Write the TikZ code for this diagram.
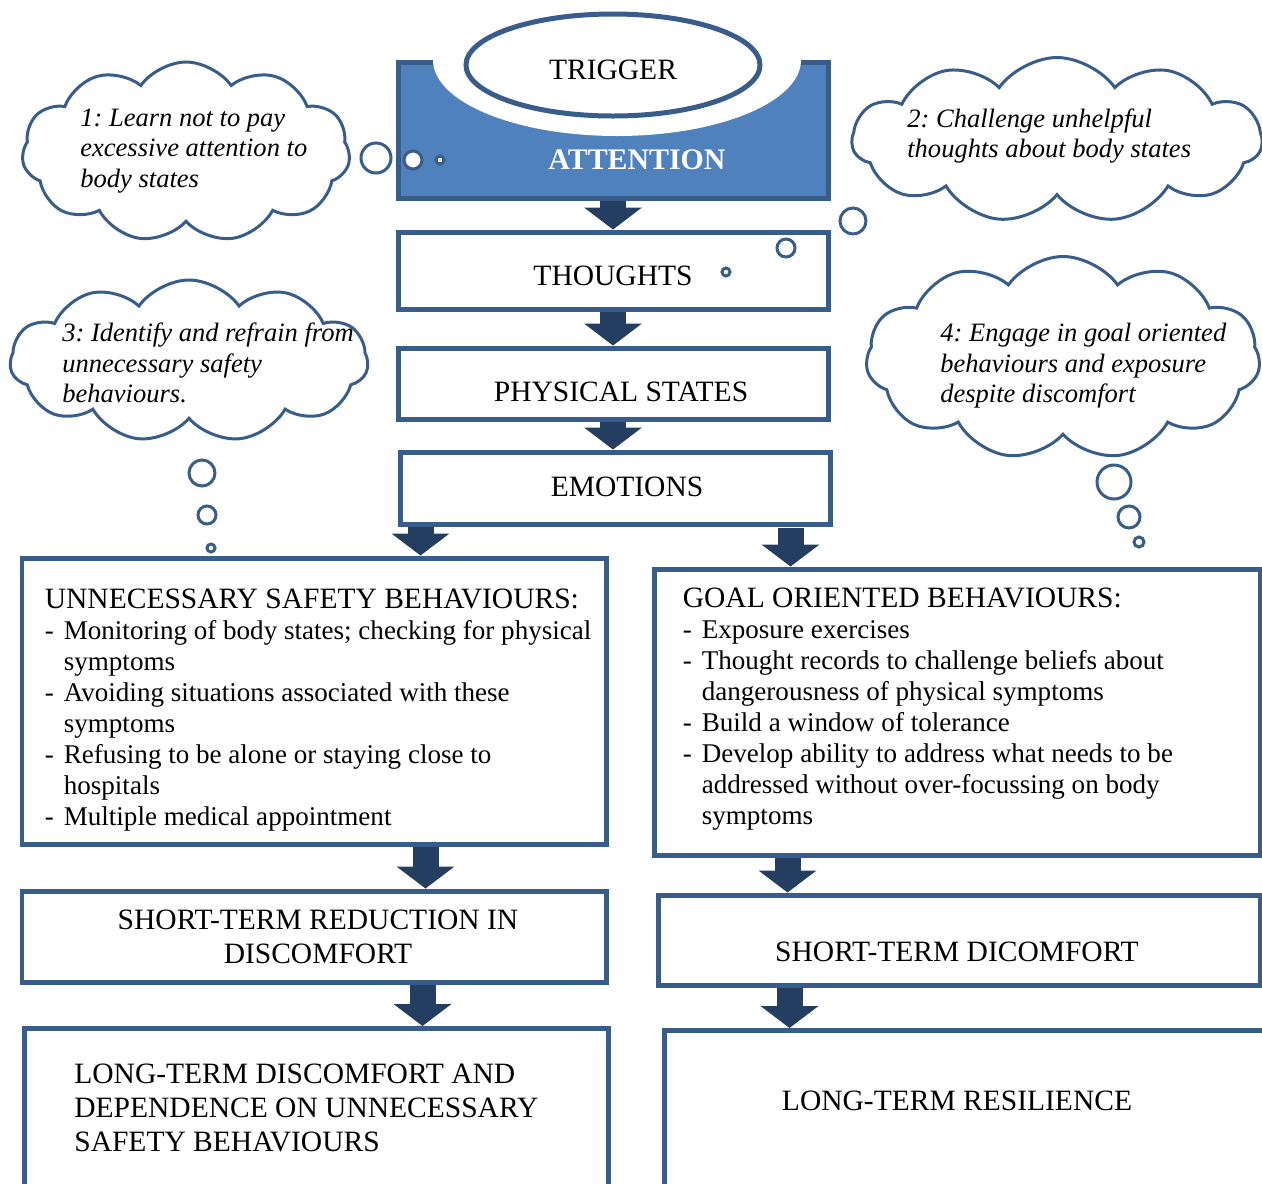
\documentclass[tikz,border=0pt]{standalone}
\usepackage{fontspec}
\setmainfont{Liberation Serif}
\usetikzlibrary{shapes.geometric, shapes.symbols, arrows.meta, positioning}
\definecolor{qline}{RGB}{56,93,138}
\definecolor{qfill}{RGB}{79,129,189}
\definecolor{qarrow}{RGB}{36,62,98}
\newcommand{\px}{0.02cm}
\newcommand{\boxfont}{\fontsize{15.4pt}{17.6pt}\selectfont}
\newcommand{\capfont}{\fontsize{16.8pt}{19.3pt}\selectfont}
\newcommand{\cloudfont}{\fontsize{15.1pt}{17.4pt}\selectfont\itshape}
\newcommand{\dashitem}[1]{\makebox[0.38cm][l]{-}#1}
\newcommand{\dashcont}[1]{\hspace*{0.38cm}#1}
\frenchspacing
\tikzset{
  box/.style={draw=qline, line width=0.1cm, fill=white, font=\capfont, align=center, inner sep=0pt},
  boxtext/.style={font=\capfont, align=center, inner sep=0pt},
  listtext/.style={font=\boxfont, align=left, inner sep=0pt, anchor=west},
  thoughtcloud/.style={cloud, cloud puffs=11, cloud puff arc=110, cloud ignores aspect, draw=qline, line width=0.06cm, fill=white},
  cloudtext/.style={font=\cloudfont, align=left, inner sep=0pt, anchor=west},
  bubble/.style={draw=qline, line width=0.06cm, fill=white},
  bigarrow/.style={color=qarrow, line width=0.52cm, -{Triangle[width=1.16cm, length=0.44cm, line width=0pt]}},
}
\begin{document}
\begin{tikzpicture}[x=\px, y=\px]

\useasboundingbox (0,0) rectangle (1262,-1184);
\clip (0,0) rectangle (1262,-1184);

%attention block with trigger
\node[box, fill=qfill, minimum width=430*\px, minimum height=136*\px] (attn) at (613,-130) {};
\fill[white] (617,-60) ellipse[x radius=184, y radius=76];
\node[ellipse, draw=qline, line width=0.1cm, fill=white, minimum width=294*\px, minimum height=102*\px] (trig) at (613,-65) {};
\node[boxtext] (trigtext) at ([yshift=-5*\px]trig.center) {TRIGGER};
\node[font=\fontsize{17pt}{20pt}\selectfont\bfseries, text=white] (attnlabel) at (637,-160) {ATTENTION};

%chain of boxes
\node[box, minimum width=430*\px, minimum height=77*\px] (thought) at (613,-270.5) {};
\node[boxtext] (thoughttext) at ([yshift=-5*\px]thought.center) {THOUGHTS};
\node[box, minimum width=430*\px, minimum height=71*\px] (phys) at (613,-383.5) {};
\node[boxtext] (phystext) at ([xshift=8*\px, yshift=-8*\px]phys.center) {PHYSICAL STATES};
\node[box, minimum width=430*\px, minimum height=72*\px] (emo) at (615,-488) {};
\node[boxtext] (emotext) at ([xshift=12*\px, yshift=1*\px]emo.center) {EMOTIONS};

%left branch
\node[box, minimum width=584*\px, minimum height=286*\px] (unsafe) at (314,-701) {};
\node[listtext] (unsafetext) at ([xshift=25*\px, yshift=-9*\px]unsafe.west) {{\capfont UNNECESSARY SAFETY BEHAVIOURS:}\\
  \dashitem{Monitoring of body states; checking for physical}\\
  \dashcont{symptoms}\\
  \dashitem{Avoiding situations associated with these}\\
  \dashcont{symptoms}\\
  \dashitem{Refusing to be alone or staying close to}\\
  \dashcont{hospitals}\\
  \dashitem{Multiple medical appointment}};
\node[box, minimum width=584*\px, minimum height=91*\px] (shortred) at (314,-936.5) {};
\node[boxtext] (shortredtext) at ([xshift=4*\px]shortred.center) {SHORT-TERM REDUCTION IN\\ DISCOMFORT};
\node[box, anchor=north west, minimum width=584*\px, minimum height=190*\px] (longdis) at (22,-1026) {};
\node[listtext, font=\capfont] (longdistext) at (74,-1108) {LONG-TERM DISCOMFORT AND\\ DEPENDENCE ON UNNECESSARY\\ SAFETY BEHAVIOURS};

%right branch
\node[box, minimum width=606*\px, minimum height=286*\px] (goal) at (957,-712) {};
\node[listtext] (goaltext) at ([xshift=31*\px, yshift=3*\px]goal.west) {{\capfont GOAL ORIENTED BEHAVIOURS:}\\
  \dashitem{Exposure exercises}\\
  \dashitem{Thought records to challenge beliefs about}\\
  \dashcont{dangerousness of physical symptoms}\\
  \dashitem{Build a window of tolerance}\\
  \dashitem{Develop ability to address what needs to be}\\
  \dashcont{addressed without over-focussing on body}\\
  \dashcont{symptoms}};
\node[box, minimum width=602*\px, minimum height=90*\px] (shortdis) at (959,-940) {};
\node[boxtext] (shortdistext) at ([xshift=-2*\px, yshift=-12*\px]shortdis.center) {SHORT-TERM DICOMFORT};
\node[box, anchor=north west, minimum width=640*\px, minimum height=190*\px] (resil) at (662,-1028) {};
\node[boxtext] (resiltext) at (957,-1101) {LONG-TERM RESILIENCE};

%block arrows
\draw[bigarrow] (attn.south) -- (thought.north);
\draw[bigarrow] (thought.south) -- (phys.north);
\draw[bigarrow] (phys.south) -- (phys.south |- emo.north);
\coordinate (a4) at ([xshift=23*\px]emo.south west);
\draw[bigarrow] (a4) -- (a4 |- unsafe.north);
\coordinate (a5) at ([xshift=139*\px]goal.north west);
\draw[bigarrow] ([yshift=39*\px]a5) -- (a5);
\coordinate (a6) at ([xshift=406*\px]unsafe.south west);
\draw[bigarrow] (a6) -- (a6 |- shortred.north);
\coordinate (a7) at ([xshift=403*\px]shortred.south west);
\draw[bigarrow] (a7) -- (a7 |- longdis.north);
\coordinate (a8) at ([xshift=136*\px]goal.south west);
\draw[bigarrow] (a8) -- (a8 |- shortdis.north);
\coordinate (a9) at ([xshift=134*\px]shortdis.south west);
\draw[bigarrow] (a9) -- (a9 |- resil.north);

%thought clouds
\node[thoughtcloud, minimum width=328*\px, minimum height=180*\px] (c1) at (186,-152) {};
\node[cloudtext] (c1text) at (80,-151) {1: Learn not to pay\\ excessive attention to\\ body states};
\node[thoughtcloud, minimum width=410*\px, minimum height=165*\px] (c2) at (1057,-140) {};
\node[cloudtext] (c2text) at (907,-136) {2: Challenge unhelpful\\ thoughts about body states};
\node[thoughtcloud, minimum width=358*\px, minimum height=162*\px] (c3) at (189,-361) {};
\node[cloudtext] (c3text) at (62,-363) {3: Identify and refrain from\\ unnecessary safety\\ behaviours.};
\node[thoughtcloud, minimum width=394*\px, minimum height=203*\px] (c4) at (1063,-358) {};
\node[cloudtext] (c4text) at (940,-366) {4: Engage in goal oriented\\ behaviours and exposure\\ despite discomfort};

%bubbles
\foreach \cx/\cy/\r in {376/158/15, 413/160/9, 440/160/4,
  853/221/13, 786/248/9, 726/272/4,
  202/473/13, 207/515/9, 211/548/4,
  1114/482/17, 1129/517/11, 1139/542/5}
  \draw[bubble] (\cx,-\cy) circle[radius=\r];

\end{tikzpicture}
\end{document}
